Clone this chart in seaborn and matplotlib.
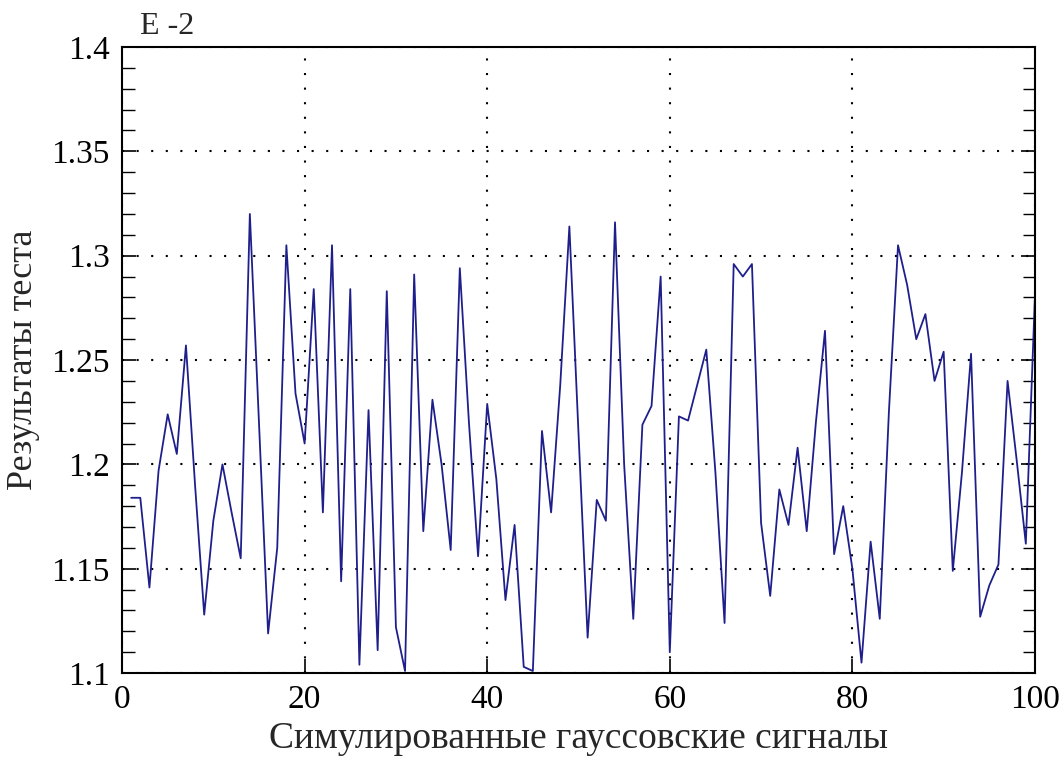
import matplotlib
matplotlib.use("Agg")
import matplotlib.pyplot as plt
import seaborn as sns
import pandas as pd
from matplotlib.ticker import MultipleLocator

# simulated signal index and test results
signal_index = list(range(1, 101))
test_results = [
    1.184, 1.184, 1.141, 1.197, 1.224, 1.205, 1.257, 1.190, 1.128, 1.173,
    1.200, 1.177, 1.155, 1.320, 1.220, 1.119, 1.160, 1.305, 1.234, 1.210,
    1.284, 1.177, 1.305, 1.144, 1.284, 1.104, 1.226, 1.111, 1.283, 1.122,
    1.101, 1.291, 1.168, 1.231, 1.200, 1.159, 1.294, 1.220, 1.156, 1.229,
    1.193, 1.135, 1.171, 1.103, 1.101, 1.216, 1.177, 1.238, 1.314, 1.215,
    1.117, 1.183, 1.173, 1.316, 1.200, 1.126, 1.219, 1.228, 1.290, 1.110,
    1.223, 1.221, 1.238, 1.255, 1.196, 1.124, 1.296, 1.290, 1.296, 1.172,
    1.137, 1.188, 1.171, 1.208, 1.168, 1.220, 1.264, 1.157, 1.180, 1.150,
    1.105, 1.163, 1.126, 1.225, 1.305, 1.286, 1.260, 1.272, 1.240, 1.254,
    1.149, 1.196, 1.253, 1.127, 1.142, 1.152, 1.240, 1.202, 1.162, 1.281,
]
x_ticks = [0, 20, 40, 60, 80, 100]
y_ticks = [1.1, 1.15, 1.2, 1.25, 1.3, 1.35, 1.4]
y_tick_labels = ["1.1", "1.15", "1.2", "1.25", "1.3", "1.35", "1.4"]

df = pd.DataFrame({"signal": signal_index, "result": test_results})

sns.set_style("white")
plt.rcParams["font.family"] = ["Liberation Serif", "DejaVu Serif"]

fig = plt.figure(figsize=(10.64, 7.58), dpi=100)
ax = fig.add_axes([0.1147, 0.112, 0.858, 0.826])

sns.lineplot(data=df, x="signal", y="result", ax=ax, color="#1f1f8c",
             linewidth=1.3)

ax.set_xlim(0, 100)
ax.set_ylim(1.1, 1.4)
ax.set_xticks(x_ticks)
ax.set_xticklabels([str(t) for t in x_ticks])
ax.set_yticks(y_ticks)
ax.set_yticklabels(y_tick_labels)
ax.yaxis.set_minor_locator(MultipleLocator(0.01))

ax.grid(True, which="major", linestyle=(0, (1, 6)), color="black", linewidth=1.5)

for s in ax.spines.values():
    s.set_color("black")
    s.set_linewidth(1.5)

ax.tick_params(axis="both", which="both", direction="in", labelsize=24,
               colors="black")
ax.tick_params(axis="y", which="major", length=10, width=1.2, left=True, right=True, pad=9)
ax.tick_params(axis="y", which="minor", length=9, width=1.0, left=True, right=True)
ax.tick_params(axis="x", which="major", length=10, width=1.2, bottom=True, top=False, pad=8)

ax.set_xlabel("Симулированные гауссовские сигналы", fontsize=27, labelpad=5)
ax.set_ylabel("Результаты теста", fontsize=26, labelpad=8)
ax.text(0.02, 1.01, "E -2", transform=ax.transAxes, fontsize=23,
        ha="left", va="bottom")

fig.savefig("out.png", dpi=100)
plt.close(fig)
